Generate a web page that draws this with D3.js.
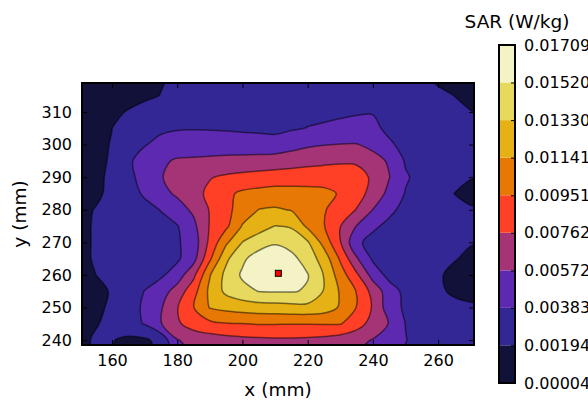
<!DOCTYPE html>
<html lang="en">
<head>
    <meta charset="UTF-8">
    <title>SAR contour</title>
    <script src="https://cdnjs.cloudflare.com/ajax/libs/d3/7.8.5/d3.min.js"></script>
    <style>
        body {
            margin: 0;
            background: #fff;
            font-family: "DejaVu Sans", sans-serif;
        }
        .tick text {
            font-size: 16px;
            font-family: "DejaVu Sans", sans-serif;
            fill: #000;
        }
        .tick line {
            stroke: #000;
        }
        .axis-label {
            font-size: 18.5px;
            fill: #000;
        }
    </style>
</head>
<body>
    <div id="wrapper"></div>
    <script>
        // measurement grid (mm)
        const xGrid = [150, 155, 160, 165, 170, 175, 180, 185, 190, 195, 200, 205, 210,
                       215, 220, 225, 230, 235, 240, 245, 250, 255, 260, 265, 270, 275]
        const yGrid = [320, 315, 310, 305, 300, 295, 290, 285, 280,
                       275, 270, 265, 260, 255, 250, 245, 240, 235]

        // SAR, in mW/kg, one row per yGrid value (top to bottom)
        const sarRowsMilli = [
            [0.99,1.08,1.18,1.37,1.56,1.84,2.12,2.31,2.50,2.60,2.69,2.69,2.69,2.79,2.88,2.98,3.07,3.07,2.98,2.79,2.50,2.12,1.74,1.46,1.37,1.27],
            [1.08,1.18,1.27,1.46,1.74,1.97,2.22,2.50,2.69,2.79,2.88,2.88,2.88,2.98,3.07,3.26,3.35,3.45,3.45,3.26,2.88,2.50,2.22,1.93,1.65,1.56],
            [1.18,1.37,1.65,2.03,2.31,2.60,2.88,3.07,3.17,3.17,3.17,3.17,3.26,3.26,3.35,3.49,3.64,3.73,3.77,3.64,3.26,2.88,2.50,2.22,1.97,1.74],
            [1.37,1.65,1.93,2.60,3.17,3.54,3.68,3.73,3.70,3.64,3.54,3.45,3.35,3.64,3.88,4.02,4.11,4.21,4.11,3.54,3.26,2.98,2.69,2.50,2.31,2.12],
            [1.46,1.71,1.99,2.88,3.73,4.30,4.78,4.83,4.83,4.79,4.76,4.70,4.62,5.06,5.44,5.65,5.78,5.80,5.32,4.02,3.45,3.07,2.79,2.60,2.41,2.31],
            [1.46,1.74,2.03,3.54,4.59,5.44,5.91,5.97,6.08,6.21,6.27,6.37,6.54,6.73,6.95,7.16,7.35,7.35,6.29,5.53,3.64,3.07,2.88,2.79,2.60,2.50],
            [1.46,1.74,2.12,3.35,4.49,5.63,6.29,6.86,7.52,7.90,8.18,8.37,8.53,8.64,8.79,8.83,8.75,8.37,7.33,5.78,4.02,3.26,2.79,2.31,2.03,1.93],
            [1.37,1.65,2.31,3.26,4.02,5.15,6.01,7.05,7.99,9.13,9.83,10.10,10.29,10.19,10.04,9.89,9.38,8.28,7.05,5.15,3.73,3.07,2.60,1.93,1.46,1.56],
            [1.56,2.01,2.46,2.94,3.39,3.88,4.91,6.06,7.73,8.96,10.40,11.44,11.61,11.31,10.61,9.66,8.62,7.54,5.68,4.19,3.35,2.79,2.50,2.22,2.12,2.03],
            [1.56,2.09,2.43,2.75,3.07,3.39,3.73,5.25,7.75,9.13,11.54,12.54,13.34,13.11,11.04,9.59,7.67,5.65,4.11,3.45,3.07,2.88,2.69,2.50,2.31,2.22],
            [1.56,2.09,2.41,2.71,3.01,3.32,3.62,4.66,8.09,11.06,13.34,14.25,14.91,14.43,13.49,10.74,7.71,4.11,3.35,2.88,2.60,2.50,2.31,2.16,2.03,1.93],
            [1.56,2.09,2.41,2.69,2.98,3.26,3.54,5.02,9.19,12.94,14.85,16.14,16.80,15.76,14.34,12.46,9.23,5.91,3.54,2.98,2.69,2.50,2.31,2.03,1.65,1.56],
            [1.46,1.93,2.41,2.79,3.17,3.54,4.72,7.14,11.29,13.83,15.48,16.42,17.09,16.33,15.29,13.20,10.46,7.94,4.96,3.26,2.88,2.50,2.12,1.56,1.27,1.37],
            [1.37,1.65,2.03,2.88,3.87,4.87,6.50,8.79,11.84,13.73,14.62,15.25,15.34,15.32,15.04,13.17,11.21,9.42,6.99,4.68,3.35,2.79,2.22,1.65,1.37,1.46],
            [1.46,1.71,2.12,3.07,4.11,5.53,7.52,9.45,11.50,11.97,12.26,12.45,12.54,12.69,12.73,12.35,11.21,9.45,7.43,4.68,3.54,3.07,2.69,2.41,2.22,2.12],
            [1.56,1.84,2.31,3.17,3.92,5.63,7.33,8.47,9.04,9.38,9.47,9.60,9.60,9.57,9.57,9.60,9.60,8.47,6.86,5.63,3.79,3.26,2.88,2.60,2.41,2.31],
            [1.56,2.12,2.03,1.56,1.65,2.50,5.63,6.29,6.67,6.95,7.14,7.24,7.33,7.33,7.24,7.05,6.67,6.20,5.63,4.78,3.88,3.26,2.88,2.60,2.50,2.41],
            [1.46,2.03,1.84,1.37,1.46,2.12,4.78,5.72,6.10,6.39,6.57,6.67,6.67,6.67,6.57,6.39,6.01,5.53,4.96,4.21,3.64,3.07,2.79,2.50,2.41,2.31]
        ]

        // contour levels (W/kg) and colorbar labels
        const levels = [0.00004, 0.00194, 0.00383, 0.00572, 0.00762, 0.00951, 0.01141, 0.01330, 0.01520, 0.01709]
        const levelLabels = ['0.00004', '0.00194', '0.00383', '0.00572', '0.00762',
                             '0.00951', '0.01141', '0.01330', '0.01520', '0.01709']
        const bandColors = ['#11113a', '#332695', '#5d29b1', '#a43475', '#ff4026',
                            '#e87804', '#e6b114', '#e6d95d', '#f3f3c6']

        const xTicks = [160, 180, 200, 220, 240, 260]
        const yTicks = [240, 250, 260, 270, 280, 290, 300, 310]
        const peak = { x: 211, y: 260.5 }

        const dims = { width: 588, height: 400, left: 82, top: 83, right: 474, bottom: 345 }

        const svg = d3.select('#wrapper')
            .append('svg')
                .attr('width', dims.width)
                .attr('height', dims.height)

        const xScale = d3.scaleLinear().domain([150.8, 271.0]).range([dims.left, dims.right])
        const yScale = d3.scaleLinear().domain([238.5, 318.9]).range([dims.bottom, dims.top])

        // grid index -> mm (d3.contours puts sample i at i + 0.5)
        const nx = xGrid.length, ny = yGrid.length
        const gx = d3.scaleLinear().domain([0.5, nx - 0.5]).range([xGrid[0], xGrid[nx - 1]])
        const gy = d3.scaleLinear().domain([0.5, ny - 0.5]).range([yGrid[0], yGrid[ny - 1]])
        const toPx = p => [xScale(gx(p[0])), yScale(gy(p[1]))]

        const values = sarRowsMilli.flat().map(v => v / 1000)
        const contours = d3.contours()
            .size([nx, ny])
            .thresholds(levels.slice(0, 9))(values)

        const ringLine = d3.line().curve(d3.curveCatmullRomClosed.alpha(0.5))
        function contourPath(c) {
            return c.coordinates.map(poly => poly.map(ring => {
                const pts = ring.slice(0, -1).map(toPx)
                return ringLine(pts)
            }).join('')).join('')
        }

        svg.append('clipPath')
            .attr('id', 'plot-clip')
            .append('rect')
                .attr('x', dims.left)
                .attr('y', dims.top)
                .attr('width', dims.right - dims.left)
                .attr('height', dims.bottom - dims.top)

        const plot = svg.append('g').attr('clip-path', 'url(#plot-clip)')

        plot.selectAll('.band')
            .data(contours)
            .join('path')
                .attr('class', 'band')
                .attr('d', contourPath)
                .attr('fill', (d, i) => bandColors[i])
                .attr('fill-rule', 'evenodd')

        plot.selectAll('.iso')
            .data(contours.slice(1))
            .join('path')
                .attr('class', 'iso')
                .attr('d', contourPath)
                .attr('fill', 'none')
                .attr('stroke', 'rgba(0,0,0,0.5)')
                .attr('stroke-width', 1.5)

        // peak marker
        svg.append('rect')
            .attr('x', xScale(peak.x) - 3)
            .attr('y', yScale(peak.y) - 3)
            .attr('width', 6)
            .attr('height', 6)
            .attr('fill', '#ff0000')
            .attr('stroke', '#000')
            .attr('stroke-width', 1)

        // axes, ticks inward on all four sides
        const tickLen = 5
        svg.append('g')
            .attr('transform', `translate(0,${dims.bottom})`)
            .call(d3.axisBottom(xScale).tickValues(xTicks).tickSize(-tickLen).tickPadding(10))
        svg.append('g')
            .attr('transform', `translate(0,${dims.top})`)
            .call(d3.axisTop(xScale).tickValues(xTicks).tickSize(-tickLen).tickFormat(''))
        svg.append('g')
            .attr('transform', `translate(${dims.left},0)`)
            .call(d3.axisLeft(yScale).tickValues(yTicks).tickSize(-tickLen).tickPadding(10))
        svg.append('g')
            .attr('transform', `translate(${dims.right},0)`)
            .call(d3.axisRight(yScale).tickValues(yTicks).tickSize(-tickLen).tickFormat(''))
        svg.selectAll('.domain').remove()

        svg.append('rect')
            .attr('x', dims.left)
            .attr('y', dims.top)
            .attr('width', dims.right - dims.left)
            .attr('height', dims.bottom - dims.top)
            .attr('fill', 'none')
            .attr('stroke', '#000')
            .attr('stroke-width', 2)

        svg.append('text')
            .attr('class', 'axis-label')
            .attr('x', (dims.left + dims.right) / 2)
            .attr('y', 396)
            .attr('text-anchor', 'middle')
            .text('x (mm)')

        svg.append('text')
            .attr('class', 'axis-label')
            .attr('transform', `translate(26,${(dims.top + dims.bottom) / 2}) rotate(-90)`)
            .attr('text-anchor', 'middle')
            .text('y (mm)')

        // colorbar
        const cb = { left: 499, right: 515, top: 45, bottom: 383 }
        const cbScale = d3.scaleLinear()
            .domain([levels[0], levels[levels.length - 1]])
            .range([cb.bottom, cb.top])

        svg.append('g')
            .selectAll('rect')
            .data(bandColors)
            .join('rect')
                .attr('x', cb.left)
                .attr('width', cb.right - cb.left)
                .attr('y', (d, i) => cbScale(levels[i + 1]))
                .attr('height', (d, i) => cbScale(levels[i]) - cbScale(levels[i + 1]))
                .attr('fill', d => d)

        svg.append('g')
            .attr('transform', `translate(${cb.right},0)`)
            .call(d3.axisRight(cbScale)
                .tickValues(levels)
                .tickFormat((d, i) => levelLabels[i])
                .tickSize(-4)
                .tickPadding(9))
            .select('.domain').remove()

        svg.append('rect')
            .attr('x', cb.left)
            .attr('y', cb.top)
            .attr('width', cb.right - cb.left)
            .attr('height', cb.bottom - cb.top)
            .attr('fill', 'none')
            .attr('stroke', '#000')
            .attr('stroke-width', 2)

        svg.append('text')
            .attr('class', 'axis-label')
            .attr('x', 517)
            .attr('y', 28)
            .attr('text-anchor', 'middle')
            .text('SAR (W/kg)')
    </script>
</body>
</html>
